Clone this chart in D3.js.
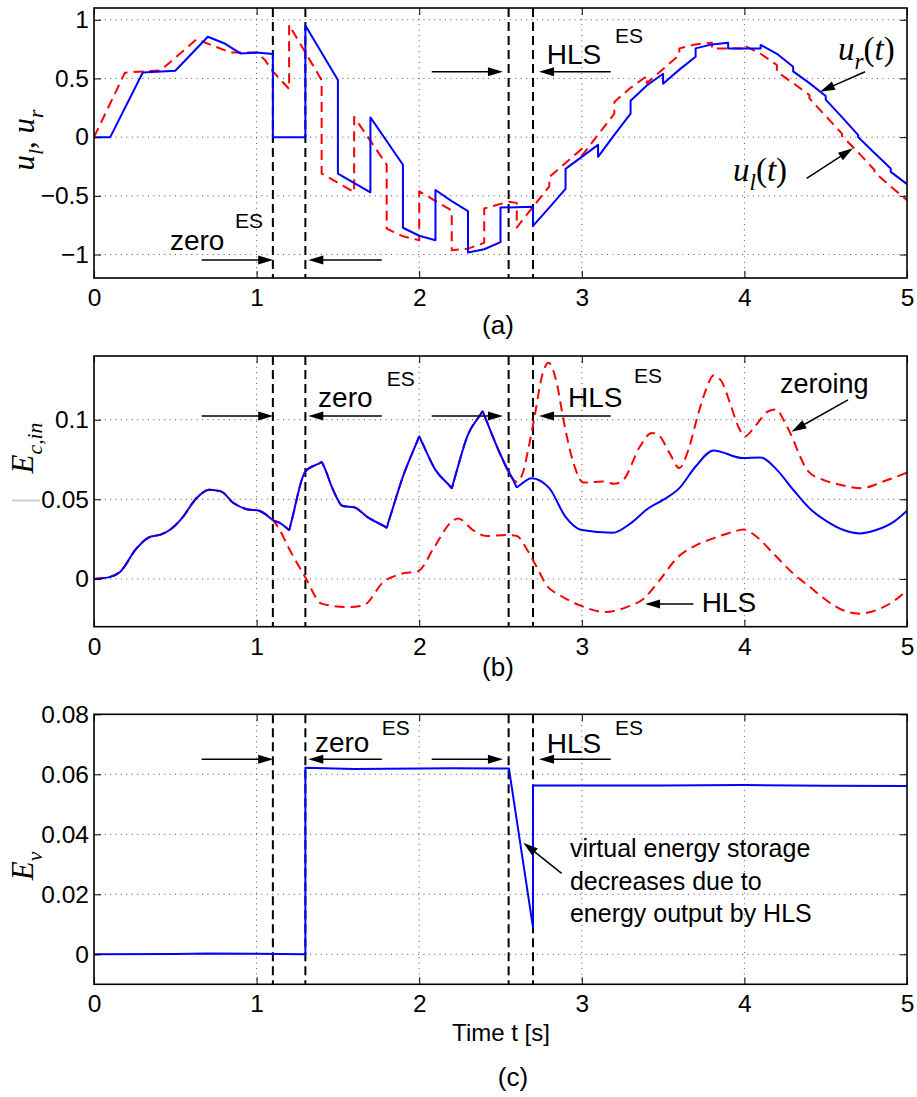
<!DOCTYPE html>
<html>
<head>
<meta charset="utf-8">
<script src="https://cdn.jsdelivr.net/npm/d3@7"></script>
<style>
  html, body { margin: 0; padding: 0; background: #fff; }
  svg { display: block; }
</style>
</head>
<body>
<svg id="fig" width="917" height="1097"></svg>
<script>
// ---------- shared time axis ----------
const xTicks = [0, 1, 2, 3, 4, 5];
const eventTimes = [1.1, 1.3, 2.55, 2.7];

// ---------- panel (a): control inputs ----------
const yTicksA = [-1, -0.5, 0, 0.5, 1];
const uR = [
  [0,0],[0.1,0],[0.3,0.55],[0.5,0.565],[0.7,0.855],[0.8,0.80],[0.9,0.713],[1.0,0.72],[1.1,0.708],
  [1.1,0],[1.3,0],[1.3,0.95],[1.5,0.486],[1.5,-0.31],[1.7,-0.47],[1.7,0.168],[1.9,-0.235],
  [1.9,-0.772],[2.0,-0.84],[2.1,-0.878],[2.1,-0.45],[2.2,-0.545],[2.3,-0.63],[2.3,-0.982],
  [2.4,-0.955],[2.5,-0.895],[2.5,-0.6],[2.7,-0.594],[2.7,-0.756],[2.8,-0.6],[2.9,-0.44],
  [2.9,-0.27],[3.1,-0.066],[3.1,-0.168],[3.2,0.02],[3.3,0.2],[3.3,0.31],[3.4,0.44],[3.5,0.54],
  [3.5,0.455],[3.6,0.575],[3.7,0.685],[3.7,0.756],[3.8,0.79],[3.9,0.804],[3.9,0.756],
  [4.1,0.756],[4.1,0.785],[4.2,0.71],[4.3,0.6],[4.3,0.56],[4.4,0.46],[4.5,0.35],[4.5,0.32],
  [4.6,0.17],[4.7,0.017],[4.7,0.0],[4.8,-0.135],[4.9,-0.267],[4.9,-0.296],[5.0,-0.4]
];
const uL = [
  [0,0],[0.19,0.548],[0.3,0.56],[0.41,0.568],[0.63,0.833],[0.73,0.78],[0.84,0.72],[1.0,0.72],
  [1.05,0.66],[1.1,0.56],[1.2,0.41],[1.2,0.955],[1.4,0.486],[1.4,-0.31],[1.6,-0.468],
  [1.6,0.172],[1.8,-0.235],[1.8,-0.78],[1.9,-0.845],[2.0,-0.878],[2.0,-0.462],[2.2,-0.625],
  [2.2,-0.963],[2.3,-0.95],[2.4,-0.9],[2.4,-0.608],[2.55,-0.55],[2.6,-0.56],[2.6,-0.77],
  [2.7,-0.594],[2.8,-0.42],[2.8,-0.34],[3.0,-0.1],[3.0,-0.16],[3.2,0.2],[3.2,0.3],[3.3,0.42],
  [3.4,0.52],[3.4,0.46],[3.6,0.70],[3.6,0.756],[3.7,0.79],[3.8,0.805],[3.8,0.756],[4.0,0.756],
  [4.0,0.78],[4.1,0.71],[4.2,0.614],[4.2,0.557],[4.3,0.46],[4.4,0.358],[4.4,0.33],[4.5,0.18],
  [4.6,0.03],[4.6,0.01],[4.7,-0.13],[4.8,-0.28],[4.8,-0.3],[4.9,-0.42],[5.0,-0.537]
];

// ---------- panel (b): input energy ----------
const yTicksB = [0, 0.05, 0.1];
const eCin = [
  [0,0],[0.1,0.0013],[0.16,0.0044],[0.26,0.019],[0.345,0.0265],[0.41,0.0278],[0.47,0.031],
  [0.54,0.038],[0.63,0.0507],[0.71,0.056],[0.78,0.055],[0.86,0.0475],[0.94,0.0438],[1.02,0.0427],
  [1.06,0.0402],[1.1,0.037],[1.14,0.0353],[1.19,0.0315],[1.2,0.0307],[1.21,0.0344],[1.3,0.0675],
  [1.39,0.0728],[1.4,0.0734],[1.41,0.0716],[1.47,0.056],[1.53,0.0458],[1.6,0.045],[1.68,0.039],
  [1.79,0.0328],[1.8,0.0322],[1.81,0.0354],[1.9,0.0643],[1.99,0.087],[2.0,0.0895],[2.01,0.0874],
  [2.1,0.0685],[2.19,0.0582],[2.2,0.057],[2.21,0.0604],[2.3,0.0906],[2.38,0.1037],[2.39,0.1053],
  [2.40,0.1028],[2.5,0.078],[2.59,0.0596],[2.6,0.0576],[2.61,0.0582],[2.69,0.0633],[2.8,0.057],
  [2.9,0.039],[3.0,0.0307],[3.19,0.029],[3.3,0.0349],[3.41,0.0444],[3.5,0.0496],[3.6,0.057],
  [3.7,0.0706],[3.81,0.0807],[3.99,0.0759],[4.1,0.0763],[4.2,0.0685],[4.3,0.056],[4.4,0.0444],
  [4.51,0.036],[4.61,0.0307],[4.71,0.0286],[4.81,0.0307],[4.92,0.036],[5.0,0.0429]
];
// zeroing-ES run: identical to eCin up to t = 2.5, then its own course
const eCinZeroingTail = [
  [2.55,0.067],[2.6,0.061],[2.64,0.0675],[2.67,0.081],[2.713,0.104],[2.754,0.127],[2.795,0.1358],
  [2.846,0.123],[2.887,0.1],[2.949,0.0728],[3.01,0.0605],[3.13,0.0612],[3.2,0.0597],[3.255,0.0622],
  [3.358,0.0832],[3.43,0.0917],[3.47,0.0906],[3.54,0.079],[3.6,0.0696],[3.655,0.081],[3.717,0.104],
  [3.768,0.12],[3.809,0.1278],[3.86,0.124],[3.911,0.1106],[3.962,0.0958],[4.003,0.0895],
  [4.065,0.0958],[4.147,0.1053],[4.198,0.1064],[4.24,0.1],[4.3,0.0875],[4.342,0.077],
  [4.393,0.0675],[4.485,0.0622],[4.588,0.0591],[4.721,0.057],[4.854,0.0612],[5.0,0.0668]
];
// HLS run: identical to eCin up to t = 1.1, then its own course
const eCinHlsTail = [
  [1.13,0.0328],[1.205,0.018],[1.298,0.0013],[1.4,-0.0155],[1.554,-0.0177],[1.657,-0.0166],
  [1.78,-0.0019],[1.882,0.003],[1.995,0.005],[2.087,0.019],[2.2,0.036],[2.24,0.038],[2.33,0.0307],
  [2.414,0.0269],[2.537,0.0276],[2.6,0.0269],[2.66,0.019],[2.722,0.0076],[2.784,-0.004],
  [2.866,-0.0103],[2.989,-0.0166],[3.143,-0.0208],[3.276,-0.0177],[3.38,-0.0124],[3.47,-0.0019],
  [3.593,0.0139],[3.685,0.0202],[3.809,0.0255],[3.932,0.0296],[3.993,0.0311],[4.075,0.0265],
  [4.178,0.016],[4.3,0.0034],[4.402,-0.005],[4.504,-0.0134],[4.607,-0.0197],[4.71,-0.0218],
  [4.834,-0.0187],[4.926,-0.0134],[5.0,-0.0071]
];

// ---------- panel (c): virtual energy storage ----------
const yTicksC = [0, 0.02, 0.04, 0.06, 0.08];
const eV = [
  [0,0],[0.5,0.0001],[0.7,0.0003],[1.0,0.0002],[1.3,0.0],[1.3,0.0622],[1.6,0.0618],[2.0,0.0619],
  [2.2,0.062],[2.5,0.0619],[2.552,0.0619],[2.7,0.0089],[2.7,0.0563],[3.5,0.0563],[4.0,0.0564],
  [4.5,0.0562],[5.0,0.0561]
];

// ---------- drawing ----------
const SANS = "'Liberation Sans', Arial, Helvetica, sans-serif";
const SERIF = "'Liberation Serif', 'Times New Roman', serif";
const BLUE = "#0000ff", RED = "#ff0000";
const plotLeft = 94, plotRight = 907;

const svg = d3.select("#fig");
const x = d3.scaleLinear().domain([0, 5]).range([plotLeft, plotRight]);
const fmt = d3.format("");

// short arrow with filled head, tail -> tip
function arrow(g, x0, y0, x1, y1) {
  const dx = x1 - x0, dy = y1 - y0, L = Math.hypot(dx, dy);
  const ux = dx / L, uy = dy / L, hl = 15, hw = 4.5;
  const bx = x1 - ux * hl, by = y1 - uy * hl;
  g.append("line").attr("x1", x0).attr("y1", y0).attr("x2", bx + ux * 2).attr("y2", by + uy * 2)
    .attr("stroke", "#000").attr("stroke-width", 1.5);
  g.append("path")
    .attr("d", `M${x1},${y1}L${bx - uy * hw},${by + ux * hw}L${bx + uy * hw},${by - ux * hw}Z`)
    .attr("fill", "#000");
}

// text with italic letters and subscripts
function mathText(g, px, py, parts, size, rotated) {
  const t = g.append("text")
    .attr("transform", `translate(${px},${py})` + (rotated ? " rotate(-90)" : ""))
    .attr("text-anchor", rotated ? "middle" : "start")
    .attr("font-family", SERIF).attr("font-size", size).attr("fill", "#000");
  let shift = 0;
  parts.forEach(p => {
    const want = p.sub ? size * 0.28 : 0;
    t.append("tspan")
      .attr("dy", want - shift)
      .attr("font-size", p.sub ? size * 0.7 : size)
      .attr("font-style", p.it ? "italic" : "normal")
      .text(p.t);
    shift = want;
  });
}

function sansText(g, px, py, str, size, anchor) {
  g.append("text").attr("x", px).attr("y", py)
    .attr("font-family", SANS).attr("font-size", size)
    .attr("text-anchor", anchor || "start").attr("fill", "#000").text(str);
}

// arrows marking the start/end of each switching interval: [tail t, tip t]
const esArrowT = [[0.662, 1.102], [1.77, 1.318], [2.077, 2.515], [3.178, 2.737]];

const panels = [
  {
    key: "a", top: 8, bottom: 278, domain: [-1.2, 1.1], ticks: yTicksA, smooth: false,
    series: [
      { data: uL, color: RED, dash: "10,6" },
      { data: uR, color: BLUE }
    ],
    arrowV: [-1.047, -1.047, 0.557, 0.557],
    labels: [
      { t: 0.467, v: -0.962, s: "zero", size: 28 },
      { t: 0.867, v: -0.774, s: "ES", size: 21 },
      { t: 2.784, v: 0.623, s: "HLS", size: 28 },
      { t: 3.204, v: 0.804, s: "ES", size: 21 }
    ],
    pointers: [[4.742, 0.557, 4.465, 0.387], [4.383, -0.351, 4.668, -0.095]],
    math: [
      { t: 4.576, v: 0.657, parts: [{t:"u",it:1},{t:"r",it:1,sub:1},{t:"("},{t:"t",it:1},{t:")"}] },
      { t: 3.93, v: -0.374, parts: [{t:"u",it:1},{t:"l",it:1,sub:1},{t:"("},{t:"t",it:1},{t:")"}] }
    ],
    ylab: { px: 34, py: 140, parts: [{t:"u",it:1},{t:"l",it:1,sub:1},{t:", "},{t:"u",it:1},{t:"r",it:1,sub:1}] },
    caption: { px: 498, py: 334, s: "(a)" }
  },
  {
    key: "b", top: 356, bottom: 626.7, domain: [-0.03, 0.14], ticks: yTicksB, smooth: true,
    series: [
      { data: eCin.filter(d => d[0] <= 1.1).concat(eCinHlsTail), color: RED, dash: "10,6" },
      { data: eCin.filter(d => d[0] <= 2.5).concat(eCinZeroingTail), color: RED, dash: "10,6" },
      { data: eCin, color: BLUE }
    ],
    arrowV: [0.1023, 0.1023, 0.1023, 0.1023],
    labels: [
      { t: 1.378, v: 0.1082, s: "zero", size: 28 },
      { t: 1.80, v: 0.1212, s: "ES", size: 21 },
      { t: 2.915, v: 0.108, s: "HLS", size: 28 },
      { t: 3.321, v: 0.1232, s: "ES", size: 21 },
      { t: 4.219, v: 0.117, s: "zeroing", size: 27 },
      { t: 3.737, v: -0.0206, s: "HLS", size: 28 }
    ],
    pointers: [[4.637, 0.1124, 4.29, 0.0925], [3.686, -0.0158, 3.389, -0.0158]],
    math: [],
    ylab: { px: 33, py: 448, parts: [{t:"E",it:1},{t:"c,in",it:1,sub:1}] },
    caption: { px: 498, py: 676, s: "(b)" }
  },
  {
    key: "c", top: 714.3, bottom: 984.3, domain: [-0.01, 0.08], ticks: yTicksC, smooth: false,
    series: [ { data: eV, color: BLUE } ],
    arrowV: [0.065, 0.065, 0.065, 0.065],
    labels: [
      { t: 1.359, v: 0.0675, s: "zero", size: 28 },
      { t: 1.769, v: 0.0731, s: "ES", size: 21 },
      { t: 2.784, v: 0.0672, s: "HLS", size: 28 },
      { t: 3.204, v: 0.0731, s: "ES", size: 21 },
      { t: 2.927, v: 0.0325, s: "virtual energy storage", size: 25 },
      { t: 2.927, v: 0.0214, s: "decreases due to", size: 25 },
      { t: 2.927, v: 0.0109, s: "energy output by HLS", size: 25 }
    ],
    pointers: [[2.876, 0.027, 2.64, 0.0372]],
    math: [],
    ylab: { px: 33, py: 866, parts: [{t:"E",it:1},{t:"v",it:1,sub:1}] },
    caption: { px: 513, py: 1086, s: "(c)" },
    xlab: { px: 501, py: 1041, s: "Time t [s]" }
  }
];

panels.forEach(P => {
  const y = d3.scaleLinear().domain(P.domain).range([P.bottom, P.top]);
  const g = svg.append("g").attr("class", "panel-" + P.key);
  const clipId = "clip-" + P.key;
  svg.append("defs").append("clipPath").attr("id", clipId)
    .append("rect").attr("x", plotLeft).attr("y", P.top)
    .attr("width", plotRight - plotLeft).attr("height", P.bottom - P.top);

  // dotted grid
  const grid = g.append("g").attr("stroke", "#555").attr("stroke-width", 1)
    .attr("stroke-dasharray", "1,4.4");
  xTicks.filter(t => t > 0 && t < 5).forEach(t =>
    grid.append("line").attr("x1", x(t)).attr("x2", x(t)).attr("y1", P.top).attr("y2", P.bottom));
  P.ticks.filter(v => y(v) > P.top + 1 && y(v) < P.bottom - 1).forEach(v =>
    grid.append("line").attr("x1", plotLeft).attr("x2", plotRight).attr("y1", y(v)).attr("y2", y(v)));

  // switching instants
  eventTimes.forEach(t =>
    g.append("line").attr("x1", x(t)).attr("x2", x(t)).attr("y1", P.top).attr("y2", P.bottom)
      .attr("stroke", "#000").attr("stroke-width", 2).attr("stroke-dasharray", "9,5"));

  // curves
  const line = d3.line().x(d => x(d[0])).y(d => y(d[1]))
    .curve(P.smooth ? d3.curveMonotoneX : d3.curveLinear);
  const curves = g.append("g").attr("clip-path", `url(#${clipId})`);
  P.series.forEach(s =>
    curves.append("path").attr("d", line(s.data)).attr("fill", "none")
      .attr("stroke", s.color).attr("stroke-width", 2)
      .attr("stroke-dasharray", s.dash || null).attr("stroke-linejoin", "round"));

  // axes with inward ticks on all four sides
  const styleAxis = sel => {
    sel.select(".domain").remove();
    sel.selectAll(".tick line").attr("stroke", "#000").attr("stroke-width", 1);
    sel.selectAll("text").attr("font-family", SANS).attr("font-size", 24.5).attr("fill", "#000");
    sel.attr("font-family", null).attr("font-size", null);
  };
  g.append("g").attr("transform", `translate(0,${P.bottom})`)
    .call(d3.axisBottom(x).tickValues(xTicks).tickSizeInner(-7).tickSizeOuter(0)
      .tickPadding(10.5).tickFormat(fmt)).call(styleAxis);
  g.append("g").attr("transform", `translate(0,${P.top})`)
    .call(d3.axisTop(x).tickValues(xTicks).tickSizeInner(-7).tickSizeOuter(0).tickFormat(""))
    .call(styleAxis);
  g.append("g").attr("transform", `translate(${plotLeft},0)`)
    .call(d3.axisLeft(y).tickValues(P.ticks).tickSizeInner(-7).tickSizeOuter(0)
      .tickPadding(5).tickFormat(fmt)).call(styleAxis);
  g.append("g").attr("transform", `translate(${plotRight},0)`)
    .call(d3.axisRight(y).tickValues(P.ticks).tickSizeInner(-7).tickSizeOuter(0).tickFormat(""))
    .call(styleAxis);

  // frame
  g.append("rect").attr("x", plotLeft).attr("y", P.top)
    .attr("width", plotRight - plotLeft).attr("height", P.bottom - P.top)
    .attr("fill", "none").attr("stroke", "#000").attr("stroke-width", 1.6);

  // annotations
  const ann = g.append("g");
  esArrowT.forEach((a, i) => arrow(ann, x(a[0]), y(P.arrowV[i]), x(a[1]), y(P.arrowV[i])));
  P.pointers.forEach(p => arrow(ann, x(p[0]), y(p[1]), x(p[2]), y(p[3])));
  P.labels.forEach(l => sansText(ann, x(l.t), y(l.v), l.s, l.size));
  P.math.forEach(m => mathText(ann, x(m.t), y(m.v), m.parts, 33, false));

  mathText(g, P.ylab.px, P.ylab.py, P.ylab.parts, 31, true);
  sansText(g, P.caption.px, P.caption.py, P.caption.s, 26, "middle");
  if (P.xlab) sansText(g, P.xlab.px, P.xlab.py, P.xlab.s, 24, "middle");
});

// faint mark left of the E_c,in label
svg.append("line").attr("x1", 12).attr("x2", 40).attr("y1", 500.5).attr("y2", 500.5)
  .attr("stroke", "#d0d0d0").attr("stroke-width", 2);
</script>
</body>
</html>
